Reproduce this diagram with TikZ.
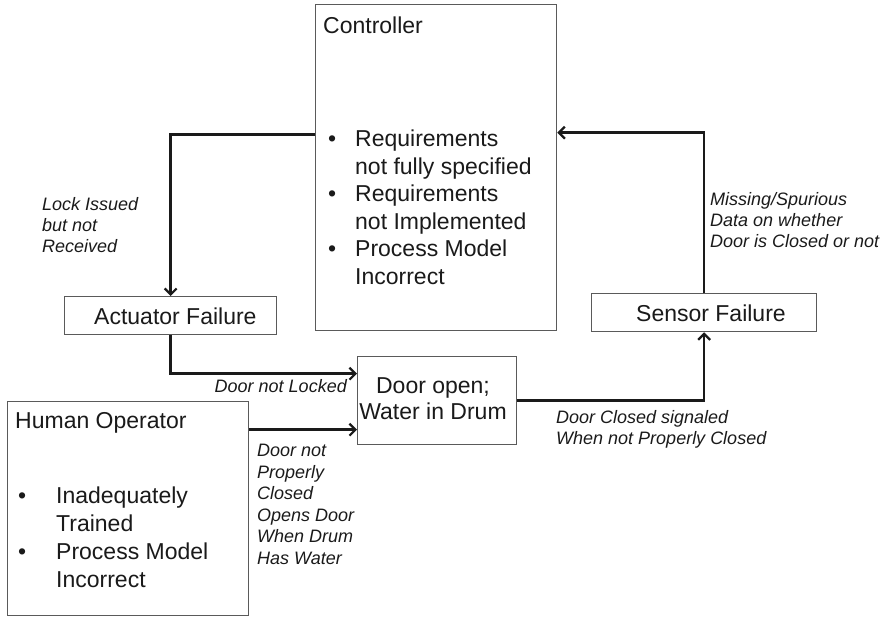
\documentclass[tikz,border=0pt]{standalone}
\usepackage{fontspec}
\setmainfont{Liberation Sans}
\usetikzlibrary{arrows.meta}
\definecolor{boxline}{HTML}{5A5A5A}
\definecolor{ink}{HTML}{1A1A1A}
\begin{document}
\begin{tikzpicture}[x=1pt,y=-1pt,
  box/.style={draw=boxline, line width=1.3pt, fill=white, inner sep=0pt, anchor=north west},
  txt/.style={inner sep=0pt, text=ink, font=\fontsize{23}{27.5}\selectfont},
  lbl/.style={inner sep=0pt, text=ink, font=\fontsize{18}{21.5}\selectfont\itshape},
  conn/.style={draw=ink, line width=2.6pt, -{Straight Barb[length=6pt,width=12pt,line width=2.2pt]}}]
\useasboundingbox (0,0) rectangle (888,616);

% boxes
\node[box, minimum width=241pt, minimum height=326pt] (ctrl) at (315,4) {};
\node[box, minimum width=212pt, minimum height=38pt] (act) at (64,296) {};
\node[box, minimum width=225pt, minimum height=38pt] (sens) at (591,293) {};
\node[box, minimum width=159pt, minimum height=88pt] (door) at (357,356) {};
\node[box, minimum width=241pt, minimum height=214pt] (hum) at (7,401) {};

% box texts
\node[txt, anchor=base west] (ctrltitle) at (323,33) {Controller};
\node[txt, anchor=base west] (ctrllist) at (328,146.7) {%
  \begin{tabular}[t]{@{}p{27pt}@{}l@{}}
  \textbullet & Requirements\\
              & not fully specified\\
  \textbullet & Requirements\\
              & not Implemented\\
  \textbullet & Process Model\\
              & Incorrect
  \end{tabular}};
\node[txt, anchor=base west] (acttext) at (94,324) {Actuator Failure};
\node[txt, anchor=base west] (senstext) at (636,321) {Sensor Failure};
\node[txt, anchor=base] (doortext) at (433,393.3) {%
  \fontsize{23}{26}\selectfont
  \begin{tabular}[t]{@{}c@{}}Door open;\\ Water in Drum\end{tabular}};
\node[txt, anchor=base west] (humtitle) at (15,428) {Human Operator};
\node[txt, anchor=base west] (humlist) at (18,503) {%
  \fontsize{23}{28}\selectfont
  \begin{tabular}[t]{@{}p{38pt}@{}l@{}}
  \textbullet & Inadequately\\
              & Trained\\
  \textbullet & Process Model\\
              & Incorrect
  \end{tabular}};

% connectors
\draw[conn] ([yshift=33pt]ctrl.west) -| (act.north);
\coordinate (actin) at ([yshift=27pt]door.west);
\draw[conn] (act.south) |- (actin);
\coordinate (humout) at ([yshift=79pt]hum.east);
\draw[conn] (humout) -- (humout -| door.west);
\draw[conn] (door.east) -| (sens.south);
\draw[conn] (sens.north) |- ([yshift=35pt]ctrl.east);

% connector labels
\node[lbl, anchor=base west] (lock) at (42,210) {%
  \fontsize{18}{21}\selectfont
  \begin{tabular}[t]{@{}l@{}}Lock Issued\\ but not\\ Received\end{tabular}};
\node[lbl, anchor=base east] (notlocked) at (347,392) {Door not Locked};
\node[lbl, anchor=base west] (humlbl) at (257,456.7) {%
  \begin{tabular}[t]{@{}l@{}}Door not\\ Properly\\ Closed\\ Opens Door\\ When Drum\\ Has Water\end{tabular}};
\node[lbl, anchor=base west] (signaled) at (556,423) {%
  \fontsize{18}{21}\selectfont
  \begin{tabular}[t]{@{}l@{}}Door Closed signaled\\ When not Properly Closed\end{tabular}};
\node[lbl, anchor=base west] (missing) at (710,205) {%
  \fontsize{18}{21}\selectfont
  \begin{tabular}[t]{@{}l@{}}Missing/Spurious\\ Data on whether\\ Door is Closed or not\end{tabular}};
\end{tikzpicture}
\end{document}
